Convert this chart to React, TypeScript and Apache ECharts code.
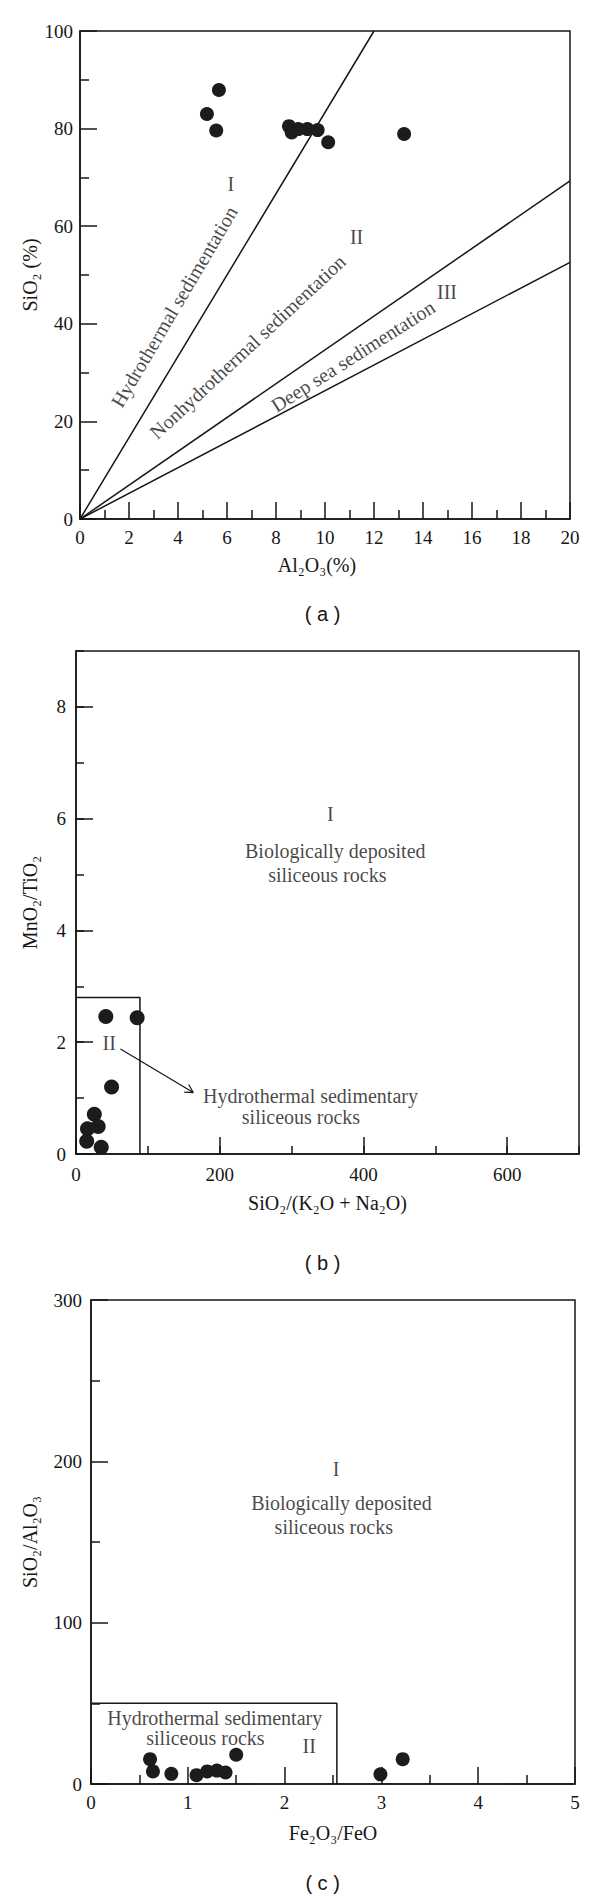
import React, { useEffect, useRef } from "react";
import * as echarts from "echarts";

// ---------- data: chart (a) ----------
const aAl2O3 = [5.18, 5.67, 5.56, 8.53, 8.64, 8.91, 9.28, 9.7, 10.13, 13.23];
const aSiO2 = [83.0, 87.9, 79.6, 80.5, 79.2, 79.9, 79.9, 79.7, 77.2, 78.9];
const aHydroBoundary = [[0, 0], [12, 100]];
const aNonHydroBoundary = [[0, 0], [20, 69.3]];
const aDeepSeaBoundary = [[0, 0], [20, 52.6]];
const aRegionNames = ["I", "II", "III"];
const aRegionX = [6.16, 11.29, 14.98];
const aRegionY = [68.6, 57.7, 46.5];
const aFieldNames = ["Hydrothermal sedimentation", "Nonhydrothermal sedimentation", "Deep sea sedimentation"];
const aFieldX = [3.84, 6.84, 11.14];
const aFieldY = [43.5, 35.3, 33.4];
const aFieldAngle = [59.5, 43, 32.5];

// ---------- data: chart (b) ----------
const bSiO2Alkali = [41.5, 85.1, 49.5, 25.5, 16.0, 30.9, 14.9, 35.1];
const bMnO2TiO2 = [2.46, 2.44, 1.2, 0.71, 0.45, 0.49, 0.23, 0.12];
const bFieldBox = [[0, 2.8], [89, 2.8], [89, 0]];
const bArrow = [[61.9, 1.877], [163.2, 1.099], [150.7, 1.107], [163.2, 1.099], [156.8, 1.244]];
const bTexts = ["I", "Biologically deposited", "siliceous rocks", "II", "Hydrothermal sedimentary", "siliceous rocks"];
const bTextX = [354, 360.8, 349.7, 46.3, 326.3, 313.1];
const bTextY = [6.08, 5.42, 5.0, 1.99, 1.03, 0.66];

// ---------- data: chart (c) ----------
const cFe2O3FeO = [0.61, 0.64, 0.83, 1.09, 1.2, 1.3, 1.39, 1.5, 2.99, 3.22];
const cSiO2Al2O3 = [15.4, 7.8, 6.3, 5.5, 7.8, 8.3, 7.1, 18.1, 6.0, 15.4];
const cFieldBox = [[0, 50], [2.54, 50], [2.54, 0]];
const cTexts = ["I", "Biologically deposited", "siliceous rocks", "Hydrothermal sedimentary", "siliceous rocks", "II"];
const cTextX = [2.531, 2.587, 2.508, 1.278, 1.182, 2.254];
const cTextY = [195, 174.2, 159.6, 41.1, 28.6, 23.6];

const panelCaptions = ["( a )", "( b )", "( c )"];

// ---------- styles ----------
const INK = "#161616";
const SERIF = "'Liberation Serif', 'Times New Roman', serif";
const SANS = "'Liberation Sans', Arial, sans-serif";
const LINE_W = 1.5;

type AxisOpts = {
  gridIndex: number;
  min: number;
  max: number;
  interval: number;
  name?: string;
  nameGap?: number;
  namePadding?: number[];
  labelMargin?: number;
  showLabels?: boolean;
  showLine?: boolean;
  tickLen?: number;
  minor?: boolean;
  showMaxLabel?: boolean;
  position?: string;
};

function valueAxis(o: AxisOpts) {
  const ls = { color: INK, width: LINE_W };
  return {
    type: "value",
    gridIndex: o.gridIndex,
    position: o.position,
    min: o.min,
    max: o.max,
    interval: o.interval,
    axisLine: { show: o.showLine !== false, onZero: false, lineStyle: ls },
    axisTick: { show: true, inside: true, length: o.tickLen ?? 17, lineStyle: ls },
    minorTick: { show: !!o.minor, splitNumber: 2, length: 9, lineStyle: ls },
    splitLine: { show: false },
    minorSplitLine: { show: false },
    axisLabel: {
      show: o.showLabels !== false,
      margin: o.labelMargin ?? 9,
      color: INK,
      fontFamily: SERIF,
      fontSize: 19,
      showMaxLabel: o.showMaxLabel !== false,
      showMinLabel: true,
    },
    name: o.name ?? "",
    nameLocation: "middle",
    nameGap: o.nameGap ?? 30,
    nameMoveOverlap: false,
    nameTextStyle: { color: INK, fontFamily: SERIF, fontSize: 20, padding: o.namePadding ?? 0 },
  };
}

function scatterSeries(xi: number, yi: number, xs: number[], ys: number[], size: number) {
  return {
    type: "scatter",
    xAxisIndex: xi,
    yAxisIndex: yi,
    symbol: "circle",
    symbolSize: size,
    itemStyle: { color: "#1c1c1c", opacity: 1 },
    data: xs.map((x, i) => [x, ys[i]]),
    z: 4,
  };
}

function lineSeries(xi: number, yi: number, pts: number[][], width = LINE_W) {
  return {
    type: "line",
    xAxisIndex: xi,
    yAxisIndex: yi,
    data: pts,
    showSymbol: false,
    symbol: "none",
    lineStyle: { color: INK, width },
    silent: true,
    z: 3,
  };
}

function textSeries(xi: number, yi: number, texts: string[], xs: number[], ys: number[], angles?: number[]) {
  return {
    type: "scatter",
    xAxisIndex: xi,
    yAxisIndex: yi,
    symbol: "circle",
    symbolSize: 0,
    silent: true,
    z: 5,
    label: { show: true, position: "inside", color: INK, fontFamily: SERIF, fontSize: 20 },
    data: texts.map((t, i) => ({
      value: [xs[i], ys[i]],
      label: { formatter: t, rotate: angles ? angles[i] : 0 },
    })),
  };
}

const gridBase = { show: true, borderColor: INK, borderWidth: LINE_W, backgroundColor: "transparent", containLabel: false };

const option = {
  animation: false,
  textStyle: { fontFamily: SERIF, color: INK },
  grid: [
    { ...gridBase, left: 80, top: 31, width: 490, height: 488 },
    { ...gridBase, left: 76, top: 651, width: 503, height: 503 },
    { ...gridBase, left: 91, top: 1300, width: 484, height: 484 },
  ],
  xAxis: [
    valueAxis({ gridIndex: 0, min: 0, max: 20, interval: 2, minor: true, name: "Al₂O₃(%)", nameGap: 36, namePadding: [0, 16, 0, 0], labelMargin: 9, position: "bottom" }),
    valueAxis({ gridIndex: 1, min: 0, max: 700, interval: 200, name: "SiO₂/(K₂O + Na₂O)", nameGap: 39, labelMargin: 11, showMaxLabel: false, position: "bottom" }),
    valueAxis({ gridIndex: 1, min: 0, max: 700, interval: 100, showLabels: false, showLine: false, tickLen: 8, position: "bottom" }),
    valueAxis({ gridIndex: 2, min: 0, max: 5, interval: 1, minor: true, name: "Fe₂O₃/FeO", nameGap: 39, labelMargin: 9, position: "bottom" }),
  ],
  yAxis: [
    valueAxis({ gridIndex: 0, min: 0, max: 100, interval: 20, minor: true, name: "SiO₂ (%)", nameGap: 40, labelMargin: 7, position: "left" }),
    valueAxis({ gridIndex: 1, min: 0, max: 9, interval: 2, name: "MnO₂/TiO₂", nameGap: 36, labelMargin: 10, showMaxLabel: false, position: "left" }),
    valueAxis({ gridIndex: 1, min: 0, max: 9, interval: 1, showLabels: false, showLine: false, tickLen: 8, position: "left" }),
    valueAxis({ gridIndex: 2, min: 0, max: 300, interval: 100, minor: true, name: "SiO₂/Al₂O₃", nameGap: 51, labelMargin: 9, position: "left" }),
  ],
  series: [
    // (a)
    lineSeries(0, 0, aHydroBoundary),
    lineSeries(0, 0, aNonHydroBoundary),
    lineSeries(0, 0, aDeepSeaBoundary),
    scatterSeries(0, 0, aAl2O3, aSiO2, 14),
    textSeries(0, 0, aRegionNames, aRegionX, aRegionY),
    textSeries(0, 0, aFieldNames, aFieldX, aFieldY, aFieldAngle),
    // (b)
    lineSeries(1, 1, bFieldBox),
    lineSeries(1, 1, bArrow, 1.2),
    scatterSeries(1, 1, bSiO2Alkali, bMnO2TiO2, 15),
    textSeries(1, 1, bTexts, bTextX, bTextY),
    // (c)
    lineSeries(3, 3, cFieldBox),
    scatterSeries(3, 3, cFe2O3FeO, cSiO2Al2O3, 14),
    textSeries(3, 3, cTexts, cTextX, cTextY),
  ],
  graphic: panelCaptions.map((t, i) => ({
    type: "text",
    x: 322.6,
    y: [614, 1262.6, 1882.6][i],
    style: {
      text: t,
      font: `20px ${SANS}`,
      fill: INK,
      align: "center",
      verticalAlign: "middle",
      textAlign: "center",
      textVerticalAlign: "middle",
    },
    silent: true,
  })),
};

export default function App() {
  const ref = useRef<HTMLDivElement>(null);
  useEffect(() => {
    if (!ref.current) return;
    const chart = echarts.init(ref.current, null, { renderer: "svg" });
    chart.setOption(option as any);
    return () => chart.dispose();
  }, []);
  return (
    <div
      ref={ref}
      style={{ position: "absolute", left: 0, top: 0, width: 600, height: 1898, background: "#fff" }}
    />
  );
}
